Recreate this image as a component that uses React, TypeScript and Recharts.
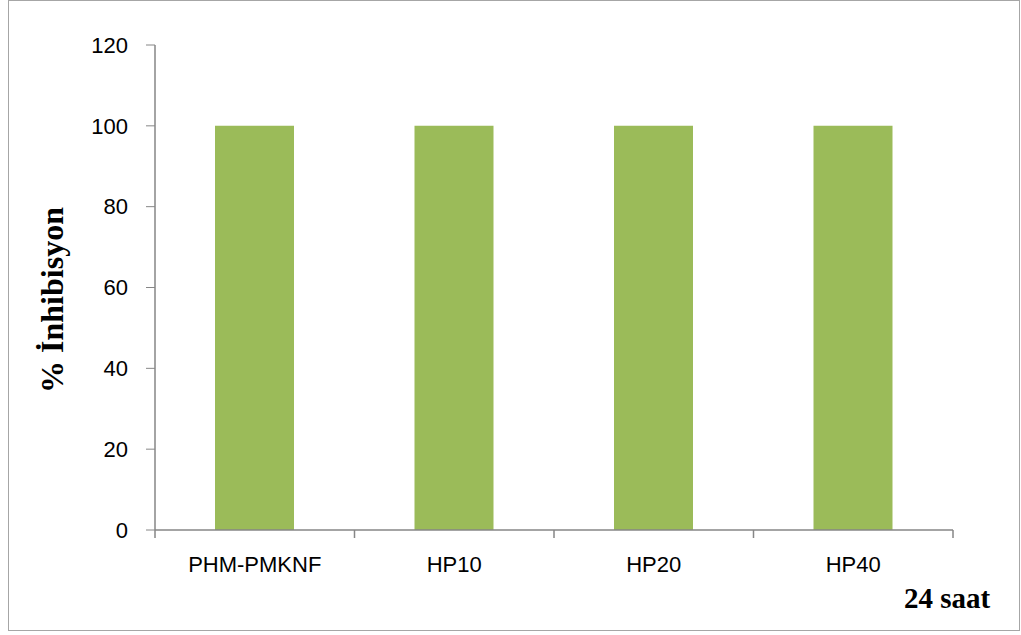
import { Bar, BarChart, XAxis, YAxis } from "recharts"

const categories = ["PHM-PMKNF", "HP10", "HP20", "HP40"]
const inhibition = [100, 100, 100, 100]
const yTicks = [0, 20, 40, 60, 80, 100, 120]

const data = categories.map((name, i) => ({ name, value: inhibition[i] }))

const axisColor = "#868686"
const tickFont = { fontSize: 22, fill: "#000", fontFamily: "Liberation Sans, Arial, sans-serif" }

// category label with tick marks placed between categories (Excel style)
function CategoryTick(props: any) {
  const { x, y, payload, index, visibleTicksCount } = props
  const half = payload?.offset ?? 0
  const axisY = y - 26
  const isLast = index === visibleTicksCount - 1
  return (
    <g>
      <line x1={x - half} x2={x - half} y1={axisY} y2={axisY + 8} stroke={axisColor} strokeWidth={1.5} />
      {isLast && (
        <line x1={x + half} x2={x + half} y1={axisY} y2={axisY + 8} stroke={axisColor} strokeWidth={1.5} />
      )}
      <text x={x} y={y} dy="0.71em" textAnchor="middle" {...tickFont}>
        {payload.value}
      </text>
    </g>
  )
}

export default function App() {
  return (
    <div style={{ position: "absolute", left: 0, top: 0, width: 1021, height: 635, background: "#fff" }}>
      <div
        style={{
          position: "absolute",
          left: 8,
          top: 0,
          width: 1012,
          height: 631,
          border: "1.5px solid #a6a6a6",
          boxSizing: "border-box",
        }}
      />
      <BarChart
        width={1021}
        height={635}
        data={data}
        margin={{ top: 45, right: 68, left: 95, bottom: 75 }}
        style={{ position: "absolute", left: 0, top: 0 }}
      >
        <XAxis
          dataKey="name"
          stroke={axisColor}
          tick={<CategoryTick />}
          tickLine={false}
          tickSize={8}
          tickMargin={18}
          interval={0}
          axisLine={{ stroke: axisColor, strokeWidth: 1.5 }}
        />
        <YAxis
          width={60}
          domain={[0, 120]}
          ticks={yTicks}
          stroke={axisColor}
          tick={tickFont}
          tickSize={9}
          tickMargin={18}
          axisLine={{ stroke: axisColor, strokeWidth: 1.5 }}
        />
        <Bar dataKey="value" fill="#9bbb59" barSize={79} isAnimationActive={false} />
      </BarChart>
      <div
        style={{
          position: "absolute",
          left: 52,
          top: 300,
          transform: "translate(-50%, -50%) rotate(-90deg)",
          whiteSpace: "nowrap",
          fontFamily: "Liberation Serif, Times New Roman, serif",
          fontWeight: "bold",
          fontSize: 32,
        }}
      >
        % İnhibisyon
      </div>
      <div
        style={{
          position: "absolute",
          left: 904,
          top: 582,
          whiteSpace: "nowrap",
          fontFamily: "Liberation Serif, Times New Roman, serif",
          fontWeight: "bold",
          fontSize: 29,
          lineHeight: "32px",
        }}
      >
        24 saat
      </div>
    </div>
  )
}
